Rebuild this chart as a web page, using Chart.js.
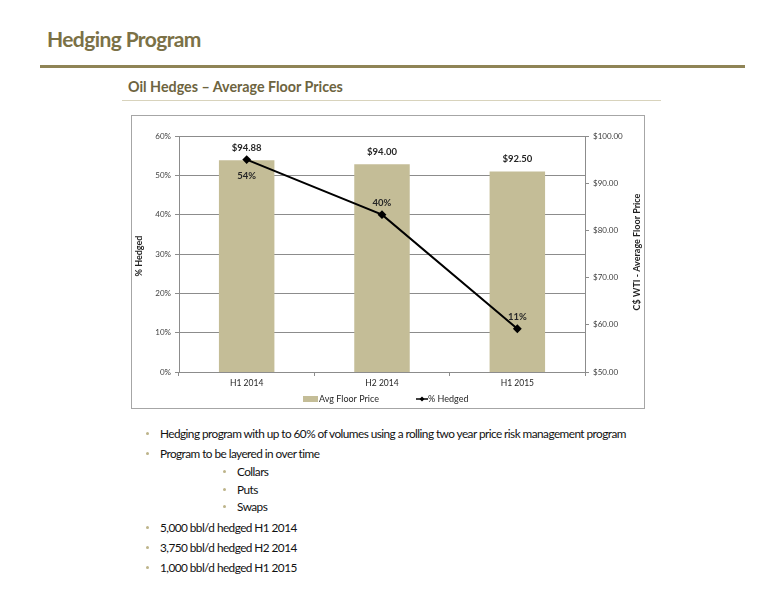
<!DOCTYPE html>
<html><head><meta charset="utf-8">
<script src="https://cdn.jsdelivr.net/npm/chart.js@4"></script>
<style>
html,body{margin:0;padding:0;background:#fff;}
body{width:776px;height:600px;position:relative;overflow:hidden;font-family:Lato,'Open Sans',sans-serif;}
#title{position:absolute;left:47px;top:27px;font-size:21px;line-height:24px;font-weight:bold;color:#7B7146;white-space:nowrap;letter-spacing:-0.6px;}
#rule{position:absolute;left:40px;top:65px;width:705px;height:3px;background:#8F8456;}
#sub{position:absolute;left:128px;top:78px;font-size:14.3px;line-height:17px;font-weight:bold;color:#6D6440;white-space:nowrap;}
#subrule{position:absolute;left:122px;top:100px;width:539px;height:1px;background:#D8D3BC;}
#box{position:absolute;left:131px;top:115px;width:512px;height:292px;border:1px solid #A6A6A6;}
#box canvas{position:absolute;left:0;top:0;}
.b{position:absolute;font-size:11.8px;line-height:15px;color:#111;white-space:nowrap;letter-spacing:-0.55px;}
.b::before{content:"";position:absolute;left:-14px;top:6px;width:3px;height:3px;border-radius:50%;background:#BDB48A;}
</style></head>
<body>
<div id="title">Hedging Program</div>
<div id="rule"></div>
<div id="sub">Oil Hedges – Average Floor Prices</div>
<div id="subrule"></div>
<div id="box"><canvas id="c" width="512" height="292"></canvas></div>
<div class="b" style="left:160px;top:426px">Hedging program with up to 60% of volumes using a rolling two year price risk management program</div>
<div class="b" style="left:160px;top:446px">Program to be layered in over time</div>
<div class="b" style="left:237px;top:464px">Collars</div>
<div class="b" style="left:237px;top:482px">Puts</div>
<div class="b" style="left:237px;top:499px">Swaps</div>
<div class="b" style="left:160px;top:520px">5,000 bbl/d hedged H1 2014</div>
<div class="b" style="left:160px;top:540px">3,750 bbl/d hedged H2 2014</div>
<div class="b" style="left:160px;top:560px">1,000 bbl/d hedged H1 2015</div>
<script>
const categories = ['H1 2014', 'H2 2014', 'H1 2015'];
const avgFloorPrice = [94.88, 94.00, 92.50];
const pctHedged = [54, 40, 11];
const pctTicks = [0, 10, 20, 30, 40, 50, 60];
const priceTicks = [50, 60, 70, 80, 90, 100];
const seriesNames = ['Avg Floor Price', '% Hedged'];
const axisTitles = ['% Hedged', 'C$ WTI - Average Floor Price'];

const FONT = 'Lato, "Open Sans", sans-serif';
const GRID = '#8C8C8C';
const BAR = '#C4BD97';

const labelsPlugin = {
  id: 'labelsPlugin',
  afterDatasetsDraw(chart) {
    const ctx = chart.ctx;
    ctx.save();
    ctx.fillStyle = '#262626';
    ctx.font = 'bold 9.5px ' + FONT;
    ctx.textAlign = 'center';
    ctx.textBaseline = 'middle';
    const barMeta = chart.getDatasetMeta(1);
    barMeta.data.forEach((el, i) => {
      ctx.fillText('$' + avgFloorPrice[i].toFixed(2), el.x, el.y - 12);
    });
    const lineMeta = chart.getDatasetMeta(0);
    lineMeta.data.forEach((el, i) => {
      const dy = i === 0 ? 16 : -12;
      ctx.fillText(pctHedged[i] + '%', el.x, el.y + dy);
    });
    ctx.restore();
  },
  afterDraw(chart) {
    const ctx = chart.ctx;
    const ca = chart.chartArea;
    ctx.save();
    ctx.fillStyle = '#1F1F1F';
    ctx.font = 'bold 9px ' + FONT;
    ctx.textAlign = 'center';
    ctx.textBaseline = 'middle';
    const midY = (ca.top + ca.bottom) / 2;
    ctx.save();
    ctx.translate(7, midY + 2);
    ctx.rotate(-Math.PI / 2);
    ctx.fillText(axisTitles[0], 0, 0);
    ctx.restore();
    ctx.save();
    ctx.translate(505, midY - 2);
    ctx.rotate(-Math.PI / 2);
    ctx.fillText(axisTitles[1], 0, 0);
    ctx.restore();
    // legend
    const ly = 283;
    ctx.font = '9px ' + FONT;
    ctx.textAlign = 'left';
    ctx.fillStyle = BAR;
    ctx.fillRect(171, ly - 3, 15, 6);
    ctx.fillStyle = '#262626';
    ctx.fillText(seriesNames[0], 187, ly);
    ctx.strokeStyle = '#000';
    ctx.lineWidth = 1.5;
    ctx.beginPath();
    ctx.moveTo(284, ly);
    ctx.lineTo(296, ly);
    ctx.stroke();
    ctx.fillStyle = '#000';
    ctx.beginPath();
    ctx.moveTo(290, ly - 2.5);
    ctx.lineTo(292.5, ly);
    ctx.lineTo(290, ly + 2.5);
    ctx.lineTo(287.5, ly);
    ctx.closePath();
    ctx.fill();
    ctx.fillStyle = '#262626';
    ctx.fillText(seriesNames[1], 296, ly);
    ctx.restore();
  }
};

new Chart(document.getElementById('c'), {
  data: {
    labels: categories,
    datasets: [
      {
        type: 'line',
        label: seriesNames[1],
        data: pctHedged,
        yAxisID: 'y',
        borderColor: '#000',
        backgroundColor: '#000',
        borderWidth: 2,
        pointStyle: 'rectRot',
        pointRadius: 3,
        pointBackgroundColor: '#000',
        pointBorderColor: '#000',
        tension: 0,
        order: 0
      },
      {
        type: 'bar',
        label: seriesNames[0],
        data: avgFloorPrice,
        yAxisID: 'y1',
        backgroundColor: BAR,
        borderWidth: 0,
        categoryPercentage: 1,
        barPercentage: 0.41,
        order: 1
      }
    ]
  },
  options: {
    responsive: false,
    animation: false,
    layout: { padding: { top: 20, left: 0, right: 0, bottom: 0 } },
    plugins: { legend: { display: false }, tooltip: { enabled: false }, title: { display: false } },
    scales: {
      x: {
        type: 'category',
        offset: true,
        grid: { offset: true, drawOnChartArea: false, color: GRID, tickLength: 4 },
        border: { color: GRID },
        ticks: { font: { size: 8.5, family: FONT }, color: '#262626', padding: 2 },
        afterFit(s) { s.height = 36; }
      },
      y: {
        type: 'linear',
        position: 'left',
        min: 0, max: 60,
        afterBuildTicks(s) { s.ticks = pctTicks.map(v => ({ value: v })); },
        ticks: { font: { size: 8, family: FONT }, color: '#404040', padding: 4, callback: v => v + '%' },
        grid: { color: GRID, tickLength: 4 },
        border: { color: GRID },
        afterFit(s) { s.width = 47; }
      },
      y1: {
        type: 'linear',
        position: 'right',
        min: 50, max: 100,
        afterBuildTicks(s) { s.ticks = priceTicks.map(v => ({ value: v })); },
        ticks: { font: { size: 8, family: FONT }, color: '#404040', padding: 4, callback: v => '$' + Number(v).toFixed(2) },
        grid: { drawOnChartArea: false, color: GRID, tickLength: 4 },
        border: { color: GRID },
        afterFit(s) { s.width = 59; }
      }
    }
  },
  plugins: [labelsPlugin]
});
</script>
</body></html>
